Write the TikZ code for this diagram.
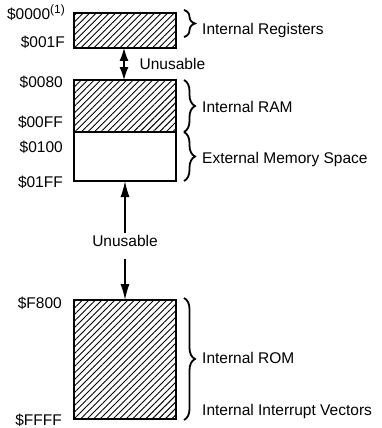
\documentclass[tikz,border=0pt]{standalone}
\usepackage{fontspec}
\setmainfont{Liberation Sans}
\usetikzlibrary{arrows.meta,positioning,patterns.meta,decorations.pathreplacing}

\begin{document}
\begin{tikzpicture}[
  x=1pt, y=-1pt,
  >={Latex[length=16pt,width=9pt]},
  box/.style={rectangle, draw=black, line width=1.4pt, minimum width=102pt,
              inner sep=0pt, outer sep=0pt},
  boxh/.style={box, pattern={Lines[angle=45,distance=4.6pt,line width=0.9pt]}},
  txt/.style={font=\fontsize{15.5}{18}\selectfont, inner sep=2pt},
  addr/.style={txt, anchor=base east},
  lbl/.style={txt, anchor=base west},
  brc/.style={decorate, decoration={brace, amplitude=11pt}, line width=1.8pt},
  arr/.style={line width=1.3pt},
  dblarr/.style={arr, {Latex[length=13pt,width=9pt]}-{Latex[length=13pt,width=9pt]}}
]
\useasboundingbox (0,0) rectangle (381,428);

\node[boxh, minimum height=35pt] (regs) at (125,30.5) {};
\node[boxh, minimum height=52pt] (ram) at (125,106) {};
\node[box, minimum height=49pt, below=0pt of ram] (ext) {};
\node[boxh, minimum height=119pt] (rom) at (125,359.5) {};

\node[addr] (a0000) at (67,20) {\$0000\raisebox{6pt}{\fontsize{12}{12}\selectfont(1)}};
\node[addr] (a001F) at (67,48) {\$001F};
\node[addr] (a0080) at (65,87) {\$0080};
\node[addr] (a00FF) at (65,127) {\$00FF};
\node[addr] (a0100) at (65,152) {\$0100};
\node[addr] (a01FF) at (65,187) {\$01FF};
\node[addr] (aF800) at (64,308) {\$F800};
\node[addr] (aFFFF) at (64,425) {\$FFFF};

\draw[brc] ([xshift=8pt,yshift=3pt]regs.north east) -- ([xshift=8pt,yshift=11pt]regs.south east);
\draw[brc] ([xshift=8pt]ram.north east) -- ([xshift=8pt]ram.south east);
\draw[brc] ([xshift=8pt]ext.north east) -- ([xshift=8pt]ext.south east);
\draw[brc] ([xshift=8pt,yshift=2pt]rom.north east) -- ([xshift=8pt,yshift=-1pt]rom.south east);

\node[lbl] (regtxt) at (200,35) {Internal Registers};
\node[lbl] (ramtxt) at (200,112) {Internal RAM};
\node[lbl] (exttxt) at (200,163) {External Memory Space};
\node[lbl] (romtxt) at (200,363) {Internal ROM};
\node[lbl] (vectxt) at (200,415) {Internal Interrupt Vectors};

\draw[dblarr] ([xshift=-1pt]regs.south) -- ([xshift=-1pt]ram.north)
  node[txt, midway, right=13pt] (unus1) {Unusable};
\node[txt] (unus2) at (125,241) {Unusable};
\draw[arr, ->] (unus2.north) -- (ext.south);
\draw[arr, ->] ([yshift=-10pt]unus2.south) -- (rom.north);
\end{tikzpicture}
\end{document}
